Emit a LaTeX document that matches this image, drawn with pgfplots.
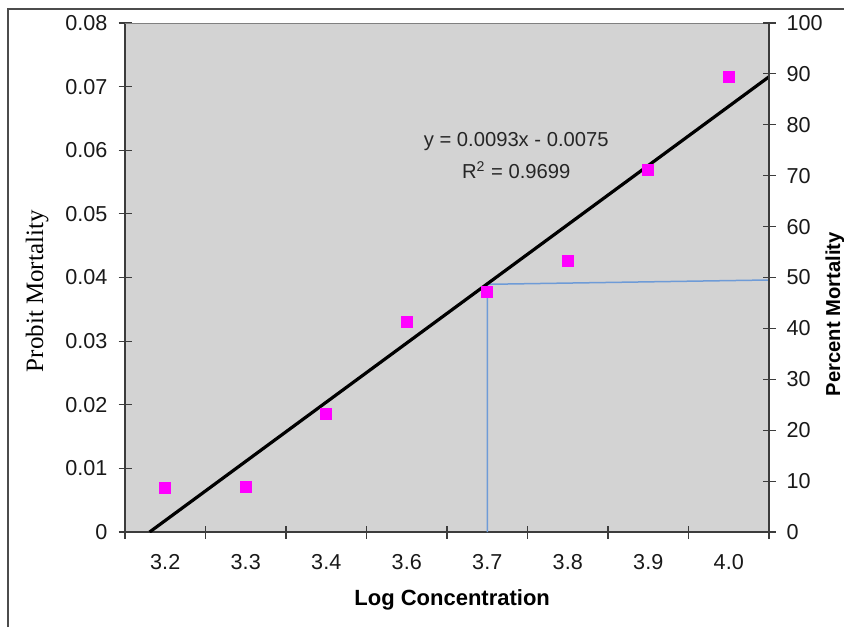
\documentclass[border=0pt]{standalone}
\usepackage{fontspec}
\setmainfont{Liberation Sans}
\newfontfamily\timesfont{Liberation Serif}
\usepackage{pgfplots}
\pgfplotsset{compat=1.18}
\definecolor{plotgray}{RGB}{211,211,211}
\definecolor{ptmag}{RGB}{255,0,255}
\definecolor{guideblue}{RGB}{110,155,215}
\definecolor{axisdark}{RGB}{60,60,60}

\pgfplotsset{
  chartbase/.style={
    at={(62.5pt,47.5pt)}, anchor=south west,
    scale only axis, width=322pt, height=254.5pt,
    xmin=0.5, xmax=8.5,
    scaled y ticks=false,
    axis line style={-, draw=axisdark, line width=0.9pt},
    tick style={draw=axisdark, line width=0.6pt},
    tick align=center, major tick length=6.5pt,
    tick label style={font=\fontsize{10.8}{12}\selectfont, text=black!90},
  },
}

\begin{document}
\begin{tikzpicture}
\path[use as bounding box] (0,0) rectangle (422pt,313.5pt);
\draw[black!70, line width=0.6pt] (4pt,0) -- (4pt,309pt) -- (422pt,309pt);

\begin{axis}[
  chartbase,
  ymin=0, ymax=0.08,
  axis x line*=bottom, axis y line*=left,
  axis background/.style={fill=plotgray},
  xtick={0.5,1.5,...,8.5},
  x tick label as interval,
  xticklabels={3.2,3.3,3.4,3.6,3.7,3.8,3.9,4.0},
  xticklabel style={yshift=-4.5pt},
  ytick={0,0.01,0.02,0.03,0.04,0.05,0.06,0.07,0.08},
  yticklabels={0,0.01,0.02,0.03,0.04,0.05,0.06,0.07,0.08},
  yticklabel style={xshift=-2pt},
  xlabel={\bfseries Log Concentration},
  xlabel style={font=\fontsize{11}{13}\selectfont, at={(rel axis cs:0.508,-0.1336)}, anchor=center},
  ylabel={Probit Mortality},
  ylabel style={font=\timesfont\fontsize{12.5}{14}\selectfont, at={(rel axis cs:-0.1366,0.473)}, anchor=center},
]
% guide lines at 50% mortality
\addplot[guideblue, line width=0.75pt] coordinates {(5,0) (5,0.03893) (8.5,0.03961)};
% linear trend y = 0.0093x - 0.0075
\addplot[black, line width=1.6pt] coordinates {(0.806,0) (8.5,0.07155)};
% observed points
\addplot[only marks, mark=square*, mark size=2.75pt, color=ptmag]
  coordinates {(1,0.0069)(2,0.0071)(3,0.0186)(4,0.0330)(5,0.0378)(6,0.0426)(7,0.0569)(8,0.0716)};
\draw[gray, line width=0.8pt] (rel axis cs:0,1) -- (rel axis cs:1,1);
\node[font=\fontsize{10.1}{12}\selectfont, text=black!85] at (axis cs:5.36,0.0613) {y = 0.0093x - 0.0075};
\node[font=\fontsize{10.1}{12}\selectfont, text=black!85] at (axis cs:5.36,0.0569) {R\textsuperscript{2} = 0.9699};
\end{axis}

\begin{axis}[
  chartbase,
  ymin=0, ymax=100,
  axis x line=none, axis y line*=right,
  ytick={0,10,...,100},
  yticklabels={0,10,20,30,40,50,60,70,80,90,100},
  yticklabel style={xshift=2pt},
  ylabel={\bfseries Percent Mortality},
  ylabel style={font=\fontsize{10.1}{12}\selectfont, at={(rel axis cs:1.1025,0.428)}, anchor=center},
]
\end{axis}
\end{tikzpicture}
\end{document}
